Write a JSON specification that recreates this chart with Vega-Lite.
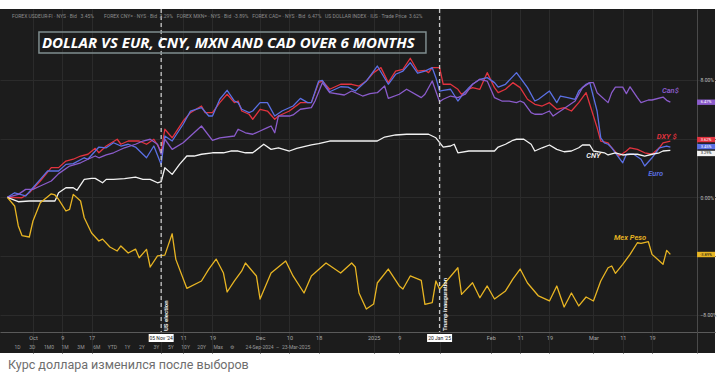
{
  "$schema": "https://vega.github.io/schema/vega-lite/v6.json",
  "width": 715,
  "height": 344,
  "padding": {"left": 0, "top": 8, "right": 6, "bottom": 0},
  "background": "#ffffff",
  "title": {"text": "Курс доллара изменился после выборов", "orient": "bottom", "anchor": "start", "frame": "group", "dx": 8, "offset": 6, "fontSize": 12.5, "font": "Roboto", "fontWeight": "normal", "color": "#6e6e6e"},
  "config": {"view": {"fill": "#1c1c1c", "stroke": null}, "font": "Roboto", "axis": {"labelOverlap": false, "labelBound": false, "labelFlush": false}},
  "datasets": {
    "fx": [
      {"series":"DXY","date":"2024-09-24","pct":0},{"series":"DXY","date":"2024-09-28","pct":-0.03},{"series":"DXY","date":"2024-09-30","pct":0.31},{"series":"DXY","date":"2024-10-03","pct":1.11},{"series":"DXY","date":"2024-10-06","pct":2.02},{"series":"DXY","date":"2024-10-08","pct":2.02},{"series":"DXY","date":"2024-10-10","pct":2.47},{"series":"DXY","date":"2024-10-12","pct":2.59},{"series":"DXY","date":"2024-10-14","pct":2.81},{"series":"DXY","date":"2024-10-16","pct":2.93},{"series":"DXY","date":"2024-10-18","pct":3.33},{"series":"DXY","date":"2024-10-19","pct":3.03},{"series":"DXY","date":"2024-10-21","pct":3.49},{"series":"DXY","date":"2024-10-24","pct":3.95},{"series":"DXY","date":"2024-10-25","pct":3.61},{"series":"DXY","date":"2024-10-27","pct":3.83},{"series":"DXY","date":"2024-10-30","pct":3.83},{"series":"DXY","date":"2024-11-01","pct":3.61},{"series":"DXY","date":"2024-11-03","pct":3.95},{"series":"DXY","date":"2024-11-05","pct":3.15},{"series":"DXY","date":"2024-11-06","pct":4.63},{"series":"DXY","date":"2024-11-08","pct":4.05},{"series":"DXY","date":"2024-11-11","pct":5.19},{"series":"DXY","date":"2024-11-13","pct":5.76},{"series":"DXY","date":"2024-11-16","pct":6.21},{"series":"DXY","date":"2024-11-17","pct":5.76},{"series":"DXY","date":"2024-11-19","pct":5.76},{"series":"DXY","date":"2024-11-21","pct":6.44},{"series":"DXY","date":"2024-11-23","pct":7.01},{"series":"DXY","date":"2024-11-25","pct":6.44},{"series":"DXY","date":"2024-11-26","pct":6.55},{"series":"DXY","date":"2024-11-27","pct":5.87},{"series":"DXY","date":"2024-11-29","pct":5.65},{"series":"DXY","date":"2024-11-30","pct":5.31},{"series":"DXY","date":"2024-12-02","pct":5.99},{"series":"DXY","date":"2024-12-04","pct":5.87},{"series":"DXY","date":"2024-12-06","pct":5.31},{"series":"DXY","date":"2024-12-07","pct":5.53},{"series":"DXY","date":"2024-12-10","pct":5.87},{"series":"DXY","date":"2024-12-13","pct":6.44},{"series":"DXY","date":"2024-12-16","pct":6.44},{"series":"DXY","date":"2024-12-18","pct":7.8},{"series":"DXY","date":"2024-12-19","pct":7.91},{"series":"DXY","date":"2024-12-21","pct":7.35},{"series":"DXY","date":"2024-12-24","pct":7.69},{"series":"DXY","date":"2024-12-27","pct":7.69},{"series":"DXY","date":"2024-12-29","pct":7.57},{"series":"DXY","date":"2024-12-31","pct":7.91},{"series":"DXY","date":"2025-01-02","pct":8.48},{"series":"DXY","date":"2025-01-04","pct":8.82},{"series":"DXY","date":"2025-01-06","pct":7.8},{"series":"DXY","date":"2025-01-08","pct":8.59},{"series":"DXY","date":"2025-01-10","pct":8.71},{"series":"DXY","date":"2025-01-12","pct":9.46},{"series":"DXY","date":"2025-01-14","pct":8.59},{"series":"DXY","date":"2025-01-16","pct":8.64},{"series":"DXY","date":"2025-01-17","pct":8.48},{"series":"DXY","date":"2025-01-18","pct":8.82},{"series":"DXY","date":"2025-01-20","pct":8.82},{"series":"DXY","date":"2025-01-21","pct":7.69},{"series":"DXY","date":"2025-01-23","pct":7.69},{"series":"DXY","date":"2025-01-25","pct":7.35},{"series":"DXY","date":"2025-01-26","pct":7.01},{"series":"DXY","date":"2025-01-28","pct":7.35},{"series":"DXY","date":"2025-01-29","pct":7.46},{"series":"DXY","date":"2025-01-31","pct":7.35},{"series":"DXY","date":"2025-02-02","pct":8.48},{"series":"DXY","date":"2025-02-04","pct":7.46},{"series":"DXY","date":"2025-02-05","pct":7.12},{"series":"DXY","date":"2025-02-07","pct":7.35},{"series":"DXY","date":"2025-02-09","pct":7.8},{"series":"DXY","date":"2025-02-11","pct":7.46},{"series":"DXY","date":"2025-02-13","pct":6.67},{"series":"DXY","date":"2025-02-15","pct":6.33},{"series":"DXY","date":"2025-02-17","pct":6.21},{"series":"DXY","date":"2025-02-19","pct":6.44},{"series":"DXY","date":"2025-02-21","pct":5.99},{"series":"DXY","date":"2025-02-23","pct":6.1},{"series":"DXY","date":"2025-02-25","pct":5.87},{"series":"DXY","date":"2025-02-27","pct":6.44},{"series":"DXY","date":"2025-03-01","pct":7.12},{"series":"DXY","date":"2025-03-02","pct":6.33},{"series":"DXY","date":"2025-03-04","pct":4.74},{"series":"DXY","date":"2025-03-05","pct":3.83},{"series":"DXY","date":"2025-03-07","pct":3.71},{"series":"DXY","date":"2025-03-08","pct":3.37},{"series":"DXY","date":"2025-03-10","pct":2.81},{"series":"DXY","date":"2025-03-12","pct":3.15},{"series":"DXY","date":"2025-03-13","pct":3.37},{"series":"DXY","date":"2025-03-15","pct":3.26},{"series":"DXY","date":"2025-03-17","pct":3.03},{"series":"DXY","date":"2025-03-19","pct":2.93},{"series":"DXY","date":"2025-03-21","pct":3.37},{"series":"DXY","date":"2025-03-22","pct":3.71},{"series":"DXY","date":"2025-03-24","pct":3.83},

      {"series":"Euro","date":"2024-09-24","pct":0},{"series":"Euro","date":"2024-09-26","pct":0.31},{"series":"Euro","date":"2024-09-29","pct":0.09},{"series":"Euro","date":"2024-10-01","pct":0.65},{"series":"Euro","date":"2024-10-03","pct":1.22},{"series":"Euro","date":"2024-10-05","pct":1.79},{"series":"Euro","date":"2024-10-08","pct":1.79},{"series":"Euro","date":"2024-10-10","pct":2.24},{"series":"Euro","date":"2024-10-12","pct":2.29},{"series":"Euro","date":"2024-10-15","pct":2.69},{"series":"Euro","date":"2024-10-16","pct":2.59},{"series":"Euro","date":"2024-10-19","pct":3.42},{"series":"Euro","date":"2024-10-21","pct":3.37},{"series":"Euro","date":"2024-10-23","pct":3.71},{"series":"Euro","date":"2024-10-25","pct":3.49},{"series":"Euro","date":"2024-10-27","pct":3.61},{"series":"Euro","date":"2024-10-29","pct":3.42},{"series":"Euro","date":"2024-11-01","pct":2.69},{"series":"Euro","date":"2024-11-03","pct":3.49},{"series":"Euro","date":"2024-11-05","pct":2.24},{"series":"Euro","date":"2024-11-06","pct":4.17},{"series":"Euro","date":"2024-11-08","pct":3.83},{"series":"Euro","date":"2024-11-11","pct":4.97},{"series":"Euro","date":"2024-11-13","pct":5.87},{"series":"Euro","date":"2024-11-16","pct":6.1},{"series":"Euro","date":"2024-11-18","pct":5.53},{"series":"Euro","date":"2024-11-19","pct":5.53},{"series":"Euro","date":"2024-11-21","pct":6.67},{"series":"Euro","date":"2024-11-23","pct":7.28},{"series":"Euro","date":"2024-11-25","pct":6.55},{"series":"Euro","date":"2024-11-26","pct":6.44},{"series":"Euro","date":"2024-11-27","pct":5.99},{"series":"Euro","date":"2024-11-29","pct":5.76},{"series":"Euro","date":"2024-11-30","pct":5.87},{"series":"Euro","date":"2024-12-02","pct":6.44},{"series":"Euro","date":"2024-12-04","pct":6.44},{"series":"Euro","date":"2024-12-06","pct":5.53},{"series":"Euro","date":"2024-12-08","pct":5.87},{"series":"Euro","date":"2024-12-11","pct":6.21},{"series":"Euro","date":"2024-12-13","pct":6.73},{"series":"Euro","date":"2024-12-15","pct":6.44},{"series":"Euro","date":"2024-12-16","pct":6.44},{"series":"Euro","date":"2024-12-18","pct":7.91},{"series":"Euro","date":"2024-12-19","pct":7.96},{"series":"Euro","date":"2024-12-21","pct":7.18},{"series":"Euro","date":"2024-12-24","pct":7.52},{"series":"Euro","date":"2024-12-26","pct":7.5},{"series":"Euro","date":"2024-12-28","pct":7.23},{"series":"Euro","date":"2024-12-31","pct":7.91},{"series":"Euro","date":"2025-01-03","pct":8.93},{"series":"Euro","date":"2025-01-06","pct":7.69},{"series":"Euro","date":"2025-01-08","pct":8.37},{"series":"Euro","date":"2025-01-10","pct":8.59},{"series":"Euro","date":"2025-01-12","pct":9.16},{"series":"Euro","date":"2025-01-14","pct":8.44},{"series":"Euro","date":"2025-01-16","pct":8.59},{"series":"Euro","date":"2025-01-18","pct":8.82},{"series":"Euro","date":"2025-01-19","pct":8.14},{"series":"Euro","date":"2025-01-20","pct":7.23},{"series":"Euro","date":"2025-01-21","pct":7.28},{"series":"Euro","date":"2025-01-23","pct":7.35},{"series":"Euro","date":"2025-01-25","pct":6.55},{"series":"Euro","date":"2025-01-26","pct":6.89},{"series":"Euro","date":"2025-01-28","pct":7.46},{"series":"Euro","date":"2025-01-29","pct":7.69},{"series":"Euro","date":"2025-01-31","pct":8.03},{"series":"Euro","date":"2025-02-02","pct":8.14},{"series":"Euro","date":"2025-02-04","pct":7.8},{"series":"Euro","date":"2025-02-05","pct":7.5},{"series":"Euro","date":"2025-02-07","pct":7.69},{"series":"Euro","date":"2025-02-10","pct":8.48},{"series":"Euro","date":"2025-02-11","pct":8.14},{"series":"Euro","date":"2025-02-13","pct":7.46},{"series":"Euro","date":"2025-02-15","pct":6.55},{"series":"Euro","date":"2025-02-16","pct":6.67},{"series":"Euro","date":"2025-02-19","pct":7.23},{"series":"Euro","date":"2025-02-21","pct":6.44},{"series":"Euro","date":"2025-02-22","pct":6.89},{"series":"Euro","date":"2025-02-24","pct":6.78},{"series":"Euro","date":"2025-02-26","pct":6.67},{"series":"Euro","date":"2025-02-27","pct":7.23},{"series":"Euro","date":"2025-03-01","pct":7.69},{"series":"Euro","date":"2025-03-02","pct":7.8},{"series":"Euro","date":"2025-03-04","pct":5.87},{"series":"Euro","date":"2025-03-05","pct":4.05},{"series":"Euro","date":"2025-03-06","pct":3.71},{"series":"Euro","date":"2025-03-07","pct":3.61},{"series":"Euro","date":"2025-03-08","pct":3.37},{"series":"Euro","date":"2025-03-11","pct":2.35},{"series":"Euro","date":"2025-03-12","pct":2.93},{"series":"Euro","date":"2025-03-14","pct":2.93},{"series":"Euro","date":"2025-03-16","pct":2.59},{"series":"Euro","date":"2025-03-17","pct":2.13},{"series":"Euro","date":"2025-03-19","pct":2.69},{"series":"Euro","date":"2025-03-21","pct":3.37},{"series":"Euro","date":"2025-03-23","pct":3.49},{"series":"Euro","date":"2025-03-24","pct":3.42},

      {"series":"CAD","date":"2024-09-24","pct":0},{"series":"CAD","date":"2024-09-27","pct":0.2},{"series":"CAD","date":"2024-09-29","pct":0.54},{"series":"CAD","date":"2024-10-01","pct":0.54},{"series":"CAD","date":"2024-10-03","pct":0.77},{"series":"CAD","date":"2024-10-06","pct":1.11},{"series":"CAD","date":"2024-10-08","pct":1.61},{"series":"CAD","date":"2024-10-11","pct":2.13},{"series":"CAD","date":"2024-10-14","pct":2.35},{"series":"CAD","date":"2024-10-16","pct":2.59},{"series":"CAD","date":"2024-10-18","pct":2.81},{"series":"CAD","date":"2024-10-19","pct":2.69},{"series":"CAD","date":"2024-10-21","pct":2.88},{"series":"CAD","date":"2024-10-23","pct":3.03},{"series":"CAD","date":"2024-10-26","pct":3.37},{"series":"CAD","date":"2024-10-29","pct":3.61},{"series":"CAD","date":"2024-10-31","pct":3.83},{"series":"CAD","date":"2024-11-02","pct":3.95},{"series":"CAD","date":"2024-11-04","pct":3.61},{"series":"CAD","date":"2024-11-05","pct":2.93},{"series":"CAD","date":"2024-11-06","pct":3.95},{"series":"CAD","date":"2024-11-08","pct":3.26},{"series":"CAD","date":"2024-11-11","pct":3.71},{"series":"CAD","date":"2024-11-13","pct":4.17},{"series":"CAD","date":"2024-11-16","pct":4.85},{"series":"CAD","date":"2024-11-19","pct":3.88},{"series":"CAD","date":"2024-11-21","pct":4.05},{"series":"CAD","date":"2024-11-25","pct":4.17},{"series":"CAD","date":"2024-11-26","pct":4.63},{"series":"CAD","date":"2024-11-28","pct":4.39},{"series":"CAD","date":"2024-11-30","pct":4.29},{"series":"CAD","date":"2024-12-02","pct":4.51},{"series":"CAD","date":"2024-12-04","pct":4.74},{"series":"CAD","date":"2024-12-05","pct":4.85},{"series":"CAD","date":"2024-12-06","pct":4.39},{"series":"CAD","date":"2024-12-07","pct":5.53},{"series":"CAD","date":"2024-12-10","pct":5.53},{"series":"CAD","date":"2024-12-11","pct":5.6},{"series":"CAD","date":"2024-12-13","pct":5.99},{"series":"CAD","date":"2024-12-16","pct":6.1},{"series":"CAD","date":"2024-12-17","pct":6.55},{"series":"CAD","date":"2024-12-19","pct":7.8},{"series":"CAD","date":"2024-12-21","pct":7.12},{"series":"CAD","date":"2024-12-25","pct":6.96},{"series":"CAD","date":"2024-12-27","pct":7.23},{"series":"CAD","date":"2024-12-30","pct":6.89},{"series":"CAD","date":"2025-01-01","pct":7.05},{"series":"CAD","date":"2025-01-03","pct":7.12},{"series":"CAD","date":"2025-01-05","pct":7.57},{"series":"CAD","date":"2025-01-06","pct":6.73},{"series":"CAD","date":"2025-01-09","pct":7.01},{"series":"CAD","date":"2025-01-11","pct":7.35},{"series":"CAD","date":"2025-01-15","pct":6.78},{"series":"CAD","date":"2025-01-16","pct":7.01},{"series":"CAD","date":"2025-01-18","pct":7.91},{"series":"CAD","date":"2025-01-20","pct":6.5},{"series":"CAD","date":"2025-01-21","pct":6.67},{"series":"CAD","date":"2025-01-23","pct":6.89},{"series":"CAD","date":"2025-01-25","pct":6.78},{"series":"CAD","date":"2025-01-27","pct":7.01},{"series":"CAD","date":"2025-01-29","pct":7.69},{"series":"CAD","date":"2025-01-31","pct":8.03},{"series":"CAD","date":"2025-02-02","pct":7.91},{"series":"CAD","date":"2025-02-04","pct":6.78},{"series":"CAD","date":"2025-02-06","pct":6.55},{"series":"CAD","date":"2025-02-08","pct":6.55},{"series":"CAD","date":"2025-02-10","pct":6.44},{"series":"CAD","date":"2025-02-11","pct":6.55},{"series":"CAD","date":"2025-02-12","pct":6.44},{"series":"CAD","date":"2025-02-14","pct":5.76},{"series":"CAD","date":"2025-02-15","pct":5.65},{"series":"CAD","date":"2025-02-17","pct":5.65},{"series":"CAD","date":"2025-02-19","pct":5.87},{"series":"CAD","date":"2025-02-20","pct":5.53},{"series":"CAD","date":"2025-02-22","pct":5.87},{"series":"CAD","date":"2025-02-24","pct":6.21},{"series":"CAD","date":"2025-02-26","pct":6.55},{"series":"CAD","date":"2025-02-28","pct":7.46},{"series":"CAD","date":"2025-03-02","pct":7.8},{"series":"CAD","date":"2025-03-03","pct":7.8},{"series":"CAD","date":"2025-03-04","pct":7.12},{"series":"CAD","date":"2025-03-07","pct":6.44},{"series":"CAD","date":"2025-03-08","pct":7.12},{"series":"CAD","date":"2025-03-09","pct":7.5},{"series":"CAD","date":"2025-03-11","pct":7.5},{"series":"CAD","date":"2025-03-12","pct":7.05},{"series":"CAD","date":"2025-03-13","pct":7.52},{"series":"CAD","date":"2025-03-15","pct":6.78},{"series":"CAD","date":"2025-03-16","pct":6.44},{"series":"CAD","date":"2025-03-18","pct":6.62},{"series":"CAD","date":"2025-03-19","pct":6.62},{"series":"CAD","date":"2025-03-22","pct":6.82},{"series":"CAD","date":"2025-03-23","pct":6.6},{"series":"CAD","date":"2025-03-24","pct":6.48},

      {"series":"CNY","date":"2024-09-24","pct":0},{"series":"CNY","date":"2024-09-27","pct":-0.3},{"series":"CNY","date":"2024-09-30","pct":-0.25},{"series":"CNY","date":"2024-10-03","pct":-0.25},{"series":"CNY","date":"2024-10-07","pct":-0.25},{"series":"CNY","date":"2024-10-08","pct":0.31},{"series":"CNY","date":"2024-10-10","pct":0.65},{"series":"CNY","date":"2024-10-12","pct":0.65},{"series":"CNY","date":"2024-10-13","pct":0.48},{"series":"CNY","date":"2024-10-15","pct":1.22},{"series":"CNY","date":"2024-10-17","pct":1.29},{"series":"CNY","date":"2024-10-18","pct":1.29},{"series":"CNY","date":"2024-10-20","pct":0.99},{"series":"CNY","date":"2024-10-21","pct":1.22},{"series":"CNY","date":"2024-10-23","pct":1.22},{"series":"CNY","date":"2024-10-26","pct":1.27},{"series":"CNY","date":"2024-10-29","pct":1.38},{"series":"CNY","date":"2024-10-31","pct":1.22},{"series":"CNY","date":"2024-11-02","pct":1.22},{"series":"CNY","date":"2024-11-04","pct":0.99},{"series":"CNY","date":"2024-11-05","pct":1.06},{"series":"CNY","date":"2024-11-06","pct":2.01},{"series":"CNY","date":"2024-11-08","pct":1.56},{"series":"CNY","date":"2024-11-10","pct":2.24},{"series":"CNY","date":"2024-11-12","pct":2.81},{"series":"CNY","date":"2024-11-14","pct":2.81},{"series":"CNY","date":"2024-11-16","pct":2.93},{"series":"CNY","date":"2024-11-19","pct":3.03},{"series":"CNY","date":"2024-11-22","pct":3.03},{"series":"CNY","date":"2024-11-24","pct":3.15},{"series":"CNY","date":"2024-11-26","pct":3.15},{"series":"CNY","date":"2024-11-28","pct":3.03},{"series":"CNY","date":"2024-11-30","pct":3.03},{"series":"CNY","date":"2024-12-03","pct":3.61},{"series":"CNY","date":"2024-12-05","pct":3.26},{"series":"CNY","date":"2024-12-07","pct":3.37},{"series":"CNY","date":"2024-12-10","pct":3.15},{"series":"CNY","date":"2024-12-12","pct":3.33},{"series":"CNY","date":"2024-12-16","pct":3.56},{"series":"CNY","date":"2024-12-18","pct":3.65},{"series":"CNY","date":"2024-12-21","pct":3.83},{"series":"CNY","date":"2024-12-27","pct":3.83},{"series":"CNY","date":"2025-01-03","pct":3.83},{"series":"CNY","date":"2025-01-05","pct":4.1},{"series":"CNY","date":"2025-01-08","pct":4.24},{"series":"CNY","date":"2025-01-11","pct":4.29},{"series":"CNY","date":"2025-01-17","pct":4.29},{"series":"CNY","date":"2025-01-19","pct":4.05},{"series":"CNY","date":"2025-01-21","pct":3.42},{"series":"CNY","date":"2025-01-23","pct":3.49},{"series":"CNY","date":"2025-01-24","pct":3.61},{"series":"CNY","date":"2025-01-25","pct":3.03},{"series":"CNY","date":"2025-01-28","pct":3.15},{"series":"CNY","date":"2025-02-04","pct":3.15},{"series":"CNY","date":"2025-02-05","pct":3.42},{"series":"CNY","date":"2025-02-07","pct":3.61},{"series":"CNY","date":"2025-02-09","pct":3.88},{"series":"CNY","date":"2025-02-10","pct":3.95},{"series":"CNY","date":"2025-02-12","pct":3.95},{"series":"CNY","date":"2025-02-14","pct":3.61},{"series":"CNY","date":"2025-02-15","pct":3.15},{"series":"CNY","date":"2025-02-17","pct":3.37},{"series":"CNY","date":"2025-02-19","pct":3.56},{"series":"CNY","date":"2025-02-21","pct":3.26},{"series":"CNY","date":"2025-02-23","pct":3.1},{"series":"CNY","date":"2025-02-25","pct":3.15},{"series":"CNY","date":"2025-02-27","pct":3.37},{"series":"CNY","date":"2025-02-28","pct":3.56},{"series":"CNY","date":"2025-03-02","pct":3.56},{"series":"CNY","date":"2025-03-03","pct":3.15},{"series":"CNY","date":"2025-03-06","pct":3.03},{"series":"CNY","date":"2025-03-07","pct":2.88},{"series":"CNY","date":"2025-03-09","pct":3.03},{"series":"CNY","date":"2025-03-11","pct":2.88},{"series":"CNY","date":"2025-03-13","pct":2.93},{"series":"CNY","date":"2025-03-15","pct":2.93},{"series":"CNY","date":"2025-03-17","pct":2.81},{"series":"CNY","date":"2025-03-19","pct":2.93},{"series":"CNY","date":"2025-03-21","pct":3.03},{"series":"CNY","date":"2025-03-22","pct":3.15},{"series":"CNY","date":"2025-03-24","pct":3.2},

      {"series":"MXN","date":"2024-09-24","pct":0},{"series":"MXN","date":"2024-09-26","pct":-0.59},{"series":"MXN","date":"2024-09-27","pct":-1.95},{"series":"MXN","date":"2024-09-28","pct":-2.6},{"series":"MXN","date":"2024-09-30","pct":-2.7},{"series":"MXN","date":"2024-10-01","pct":-1.61},{"series":"MXN","date":"2024-10-03","pct":-0.37},{"series":"MXN","date":"2024-10-06","pct":0.24},{"series":"MXN","date":"2024-10-07","pct":0.16},{"series":"MXN","date":"2024-10-08","pct":-0.14},{"series":"MXN","date":"2024-10-10","pct":-0.93},{"series":"MXN","date":"2024-10-11","pct":-0.82},{"series":"MXN","date":"2024-10-12","pct":0.2},{"series":"MXN","date":"2024-10-14","pct":-0.25},{"series":"MXN","date":"2024-10-15","pct":-1.39},{"series":"MXN","date":"2024-10-17","pct":-2.43},{"series":"MXN","date":"2024-10-19","pct":-2.97},{"series":"MXN","date":"2024-10-20","pct":-2.84},{"series":"MXN","date":"2024-10-22","pct":-3.38},{"series":"MXN","date":"2024-10-24","pct":-3.65},{"series":"MXN","date":"2024-10-25","pct":-3.31},{"series":"MXN","date":"2024-10-27","pct":-3.79},{"series":"MXN","date":"2024-10-29","pct":-3.52},{"series":"MXN","date":"2024-10-30","pct":-4.11},{"series":"MXN","date":"2024-11-01","pct":-3.54},{"series":"MXN","date":"2024-11-02","pct":-4.74},{"series":"MXN","date":"2024-11-04","pct":-3.99},{"series":"MXN","date":"2024-11-06","pct":-3.93},{"series":"MXN","date":"2024-11-08","pct":-2.48},{"series":"MXN","date":"2024-11-09","pct":-4.22},{"series":"MXN","date":"2024-11-12","pct":-6.19},{"series":"MXN","date":"2024-11-16","pct":-5.69},{"series":"MXN","date":"2024-11-18","pct":-4.88},{"series":"MXN","date":"2024-11-20","pct":-4.2},{"series":"MXN","date":"2024-11-22","pct":-5.15},{"series":"MXN","date":"2024-11-23","pct":-6.44},{"series":"MXN","date":"2024-11-25","pct":-5.69},{"series":"MXN","date":"2024-11-27","pct":-5.01},{"series":"MXN","date":"2024-11-28","pct":-4.47},{"series":"MXN","date":"2024-12-01","pct":-5.35},{"series":"MXN","date":"2024-12-02","pct":-6.92},{"series":"MXN","date":"2024-12-05","pct":-5.15},{"series":"MXN","date":"2024-12-09","pct":-4.33},{"series":"MXN","date":"2024-12-11","pct":-5.35},{"series":"MXN","date":"2024-12-14","pct":-6.51},{"series":"MXN","date":"2024-12-16","pct":-5.35},{"series":"MXN","date":"2024-12-20","pct":-4.47},{"series":"MXN","date":"2024-12-24","pct":-5.15},{"series":"MXN","date":"2024-12-27","pct":-4.47},{"series":"MXN","date":"2024-12-28","pct":-4.74},{"series":"MXN","date":"2024-12-29","pct":-6.51},{"series":"MXN","date":"2024-12-31","pct":-7.6},{"series":"MXN","date":"2025-01-02","pct":-7.26},{"series":"MXN","date":"2025-01-03","pct":-5.83},{"series":"MXN","date":"2025-01-06","pct":-4.88},{"series":"MXN","date":"2025-01-09","pct":-6.03},{"series":"MXN","date":"2025-01-10","pct":-6.24},{"series":"MXN","date":"2025-01-12","pct":-5.35},{"series":"MXN","date":"2025-01-15","pct":-5.65},{"series":"MXN","date":"2025-01-16","pct":-7.28},{"series":"MXN","date":"2025-01-18","pct":-7.17},{"series":"MXN","date":"2025-01-19","pct":-5.69},{"series":"MXN","date":"2025-01-20","pct":-6.26},{"series":"MXN","date":"2025-01-25","pct":-4.79},{"series":"MXN","date":"2025-01-26","pct":-6.6},{"series":"MXN","date":"2025-01-29","pct":-5.81},{"series":"MXN","date":"2025-01-31","pct":-6.83},{"series":"MXN","date":"2025-02-02","pct":-6.03},{"series":"MXN","date":"2025-02-04","pct":-6.92},{"series":"MXN","date":"2025-02-07","pct":-6.37},{"series":"MXN","date":"2025-02-09","pct":-5.56},{"series":"MXN","date":"2025-02-11","pct":-4.88},{"series":"MXN","date":"2025-02-13","pct":-5.83},{"series":"MXN","date":"2025-02-16","pct":-6.71},{"series":"MXN","date":"2025-02-19","pct":-7.05},{"series":"MXN","date":"2025-02-21","pct":-6.03},{"series":"MXN","date":"2025-02-23","pct":-7.46},{"series":"MXN","date":"2025-02-25","pct":-6.51},{"series":"MXN","date":"2025-02-27","pct":-7.39},{"series":"MXN","date":"2025-03-01","pct":-6.78},{"series":"MXN","date":"2025-03-03","pct":-7.05},{"series":"MXN","date":"2025-03-05","pct":-5.69},{"series":"MXN","date":"2025-03-07","pct":-4.79},{"series":"MXN","date":"2025-03-08","pct":-4.67},{"series":"MXN","date":"2025-03-09","pct":-5.17},{"series":"MXN","date":"2025-03-11","pct":-4.56},{"series":"MXN","date":"2025-03-13","pct":-3.88},{"series":"MXN","date":"2025-03-15","pct":-3.09},{"series":"MXN","date":"2025-03-16","pct":-3.13},{"series":"MXN","date":"2025-03-18","pct":-3.02},{"series":"MXN","date":"2025-03-19","pct":-3.88},{"series":"MXN","date":"2025-03-22","pct":-4.56},{"series":"MXN","date":"2025-03-23","pct":-3.61},{"series":"MXN","date":"2025-03-24","pct":-3.88}
    ],
    "events": [
      {"date": "2024-11-05", "label": "US election", "tag": "05 Nov '24"},
      {"date": "2025-01-20", "label": "Trump inauguration", "tag": "20 Jan '25"}
    ],
    "names": [
      {"series": "CAD", "label": "Can$", "date": "2025-03-24", "pct": 7.23},
      {"series": "DXY", "label": "DXY $", "date": "2025-03-23", "pct": 4.1},
      {"series": "CNY", "label": "CNY", "date": "2025-03-03", "pct": 2.81},
      {"series": "Euro", "label": "Euro", "date": "2025-03-20", "pct": 1.56},
      {"series": "MXN", "label": "Mex Peso", "date": "2025-03-13", "pct": -2.79}
    ],
    "tags": [
      {"series": "DXY", "text": "3.62%", "last": 3.62},
      {"series": "Euro", "text": "3.45%", "last": 3.45},
      {"series": "CNY", "text": "3.29%", "last": 3.29},
      {"series": "CAD", "text": "6.47%", "last": 6.47},
      {"series": "MXN", "text": "-3.89%", "last": -3.89}
    ]
  },
  "layer": [
    {
      "data": {"name": "fx"},
      "mark": {"type": "line", "strokeWidth": 1.3, "strokeJoin": "round"},
      "encoding": {
        "x": {
          "field": "date", "type": "temporal",
          "scale": {"type": "utc", "domain": [{"year": 2024, "month": 9, "date": 22, "utc": true}, {"year": 2025, "month": 4, "date": 5, "hours": 4, "minutes": 34, "utc": true}]},
          "axis": {
            "orient": "bottom", "offset": -21,
            "values": [
              {"year": 2024, "month": 10, "date": 1, "utc": true}, {"year": 2024, "month": 10, "date": 9, "utc": true}, {"year": 2024, "month": 10, "date": 17, "utc": true},
              {"year": 2024, "month": 11, "date": 5, "utc": true}, {"year": 2024, "month": 11, "date": 11, "utc": true}, {"year": 2024, "month": 11, "date": 19, "utc": true},
              {"year": 2024, "month": 12, "date": 2, "utc": true}, {"year": 2024, "month": 12, "date": 10, "utc": true}, {"year": 2024, "month": 12, "date": 18, "utc": true},
              {"year": 2025, "month": 1, "date": 2, "utc": true}, {"year": 2025, "month": 1, "date": 9, "utc": true}, {"year": 2025, "month": 1, "date": 20, "utc": true},
              {"year": 2025, "month": 2, "date": 3, "utc": true}, {"year": 2025, "month": 2, "date": 11, "utc": true}, {"year": 2025, "month": 2, "date": 19, "utc": true},
              {"year": 2025, "month": 3, "date": 3, "utc": true}, {"year": 2025, "month": 3, "date": 11, "utc": true}, {"year": 2025, "month": 3, "date": 19, "utc": true}
            ],
            "labelExpr": "(utcmonth(datum.value)==10 && utcdate(datum.value)==5) || (utcmonth(datum.value)==0 && utcdate(datum.value)==20) ? '' : (utcmonth(datum.value)==0 && utcdate(datum.value)==2 ? '2025' : (utcdate(datum.value)<=3 ? utcFormat(datum.value,'%b') : '' + utcdate(datum.value)))",
            "ticks": false, "domainColor": "#5a5a5a", "domainWidth": 1,
            "grid": true, "gridColor": "#2b2b2b", "gridWidth": 1,
            "labelColor": "#a8a8a8", "labelFontSize": 5.5, "labelPadding": 3, "labelFlush": false, "labelOverlap": false,
            "title": "1D\u00a0\u00a0\u00a0\u00a0\u00a0\u00a0\u00a03D\u00a0\u00a0\u00a0\u00a0\u00a0\u00a0\u00a01M0\u00a0\u00a0\u00a0\u00a0\u00a0\u00a01M\u00a0\u00a0\u00a0\u00a0\u00a0\u00a0\u00a03M\u00a0\u00a0\u00a0\u00a0\u00a0\u00a0\u00a06M\u00a0\u00a0\u00a0\u00a0\u00a0\u00a0YTD\u00a0\u00a0\u00a0\u00a0\u00a0\u00a01Y\u00a0\u00a0\u00a0\u00a0\u00a0\u00a0\u00a02Y\u00a0\u00a0\u00a0\u00a0\u00a0\u00a0\u00a03Y\u00a0\u00a0\u00a0\u00a0\u00a0\u00a0\u00a05Y\u00a0\u00a0\u00a0\u00a0\u00a0\u00a010Y\u00a0\u00a0\u00a0\u00a0\u00a0\u00a020Y\u00a0\u00a0\u00a0\u00a0\u00a0\u00a0Max\u00a0\u00a0\u00a0\u00a0\u00a0\u00a0\u2699\u00a0\u00a0\u00a0\u00a0\u00a0\u00a0\u00a0\u00a0\u00a024-Sep-2024\u00a0\u00a0\u2013\u00a0\u00a023-Mar-2025",
            "titleFontSize": 5, "titleColor": "#9a9a9a", "titleFontWeight": "normal", "titleAnchor": "start", "titleAlign": "left", "titleX": 14, "titlePadding": 4
          }
        },
        "y": {
          "field": "pct", "type": "quantitative",
          "scale": {"domain": [-10.59, 12.81], "nice": false, "zero": false},
          "axis": {
            "orient": "right", "offset": -18,
            "values": [-8, -7, -6, -5, -4, -3, -2, -1, 0, 1, 2, 3, 4, 5, 6, 7, 8, 9, 10, 11],
            "labelExpr": "datum.value == 3 || datum.value == 4 || datum.value == -4 ? '' : format(datum.value, '.2f') + '%'",
            "ticks": false, "domainColor": "#4a4a4a", "grid": true, "gridColor": "#2b2b2b",
            "labelColor": "#bdbdbd", "labelFontSize": 5, "labelPadding": 3, "labelFlush": false, "labelOverlap": false, "labelBound": false, "title": null
          }
        },
        "color": {
          "field": "series", "type": "nominal", "legend": null,
          "scale": {"domain": ["CNY", "MXN", "CAD", "Euro", "DXY"], "range": ["#f2f2f2", "#e8b523", "#8b5ccc", "#5b70e4", "#e2333f"]}
        }
      }
    },
    {
      "data": {"name": "events"},
      "mark": {"type": "rule", "color": "#c8c8c8", "strokeDash": [4, 3], "strokeWidth": 1.3},
      "encoding": {
        "x": {"field": "date", "type": "temporal"},
        "y": {"datum": 12.81},
        "y2": {"datum": -9.16}
      }
    },
    {
      "data": {"name": "events"},
      "mark": {"type": "text", "angle": 270, "align": "left", "baseline": "top", "dy": 2, "fontSize": 6, "fontWeight": "bold", "color": "#ececec"},
      "encoding": {
        "x": {"field": "date", "type": "temporal"},
        "y": {"datum": -9.1},
        "text": {"field": "label"}
      }
    },
    {
      "data": {"name": "events"},
      "mark": {"type": "point", "shape": "M-1,-0.32H1V0.32H-1Z", "size": 625, "filled": true, "opacity": 1, "color": "#ffffff", "strokeWidth": 0},
      "encoding": {
        "x": {"field": "date", "type": "temporal"},
        "y": {"datum": -9.57}
      }
    },
    {
      "data": {"name": "events"},
      "mark": {"type": "text", "align": "center", "baseline": "middle", "fontSize": 5, "color": "#222222"},
      "encoding": {
        "x": {"field": "date", "type": "temporal"},
        "y": {"datum": -9.57},
        "text": {"field": "tag"}
      }
    },
    {
      "data": {"name": "names"},
      "mark": {"type": "text", "align": "center", "baseline": "middle", "fontSize": 7.5, "fontStyle": "italic", "fontWeight": 600},
      "encoding": {
        "x": {"field": "date", "type": "temporal"},
        "y": {"field": "pct", "type": "quantitative"},
        "text": {"field": "label"},
        "color": {"field": "series", "type": "nominal", "legend": null}
      }
    },
    {
      "data": {"name": "tags"},
      "transform": [{"filter": "datum.series == 'CAD' || datum.series == 'MXN' || datum.series == 'Euro'"}],
      "layer": [
        {
          "mark": {"type": "point", "shape": "M-1,-0.3H1V0.3H-1Z", "size": 324, "filled": true, "opacity": 1, "strokeWidth": 0},
          "encoding": {
            "x": {"datum": {"year": 2025, "month": 4, "date": 2, "hours": 18, "utc": true}},
            "y": {"field": "last", "type": "quantitative"},
            "color": {"field": "series", "type": "nominal", "legend": null}
          }
        },
        {
          "mark": {"type": "text", "align": "center", "baseline": "middle", "fontSize": 4},
          "encoding": {
            "x": {"datum": {"year": 2025, "month": 4, "date": 2, "hours": 18, "utc": true}},
            "y": {"field": "last", "type": "quantitative"},
            "text": {"field": "text"},
            "color": {"condition": {"test": "datum.series == 'MXN'", "value": "#111111"}, "value": "#ffffff"}
          }
        }
      ]
    },
    {
      "data": {"name": "tags"},
      "transform": [{"filter": "datum.series == 'DXY'"}],
      "layer": [
        {
          "mark": {"type": "point", "shape": "M-1,-0.3H1V0.3H-1Z", "size": 324, "filled": true, "opacity": 1, "strokeWidth": 0, "yOffset": -4.5},
          "encoding": {
            "x": {"datum": {"year": 2025, "month": 4, "date": 2, "hours": 18, "utc": true}},
            "y": {"field": "last", "type": "quantitative"},
            "color": {"field": "series", "type": "nominal", "legend": null}
          }
        },
        {
          "mark": {"type": "text", "align": "center", "baseline": "middle", "fontSize": 4, "color": "#ffffff", "yOffset": -4.5},
          "encoding": {
            "x": {"datum": {"year": 2025, "month": 4, "date": 2, "hours": 18, "utc": true}},
            "y": {"field": "last", "type": "quantitative"},
            "text": {"field": "text"}
          }
        }
      ]
    },
    {
      "data": {"name": "tags"},
      "transform": [{"filter": "datum.series == 'CNY'"}],
      "layer": [
        {
          "mark": {"type": "point", "shape": "M-1,-0.3H1V0.3H-1Z", "size": 324, "filled": true, "opacity": 1, "strokeWidth": 0, "yOffset": 4.5},
          "encoding": {
            "x": {"datum": {"year": 2025, "month": 4, "date": 2, "hours": 18, "utc": true}},
            "y": {"field": "last", "type": "quantitative"},
            "color": {"field": "series", "type": "nominal", "legend": null}
          }
        },
        {
          "mark": {"type": "text", "align": "center", "baseline": "middle", "fontSize": 4, "color": "#111111", "yOffset": 4.5},
          "encoding": {
            "x": {"datum": {"year": 2025, "month": 4, "date": 2, "hours": 18, "utc": true}},
            "y": {"field": "last", "type": "quantitative"},
            "text": {"field": "text"}
          }
        }
      ]
    },
    {
      "data": {"values": [{"text": "FOREX USDEUR-FI \u00b7 NYS \u00b7 Bid\u00a0\u00a0\u00a03.45%\u00a0\u00a0\u00a0\u00a0\u00a0\u00a0\u00a0\u00a0FOREX CNY= \u00b7 NYS \u00b7 Bid\u00a0\u00a03.29%\u00a0\u00a0\u00a0FOREX MXN= \u00b7 NYS \u00b7 Bid\u00a0\u00a0-3.89%\u00a0\u00a0\u00a0FOREX CAD= \u00b7 NYS \u00b7 Bid\u00a0\u00a06.47%\u00a0\u00a0\u00a0US DOLLAR INDEX \u00b7 IUS \u00b7 Trade Price\u00a0\u00a03.62%"}]},
      "mark": {"type": "text", "align": "left", "baseline": "middle", "fontSize": 5, "color": "#8c8c8c"},
      "encoding": {
        "x": {"datum": {"year": 2024, "month": 9, "date": 25, "hours": 7, "utc": true}},
        "y": {"datum": 12.33},
        "text": {"field": "text"}
      }
    },
    {
      "data": {"values": [{"text": "DOLLAR VS EUR, CNY, MXN AND CAD OVER 6 MONTHS"}]},
      "mark": {"type": "point", "shape": "M-1,-0.0543H1V0.0543H-1Z", "size": 149769, "filled": false, "opacity": 1, "color": "#7f8d8e", "strokeWidth": 1.5},
      "encoding": {
        "x": {"datum": {"year": 2024, "month": 11, "date": 24, "hours": 11, "utc": true}},
        "y": {"datum": 10.53}
      }
    },
    {
      "data": {"values": [{"text": "DOLLAR VS EUR, CNY, MXN AND CAD OVER 6 MONTHS"}]},
      "mark": {"type": "text", "align": "left", "baseline": "middle", "font": "Open Sans", "fontSize": 15, "fontWeight": "bold", "fontStyle": "italic", "color": "#ffffff"},
      "encoding": {
        "x": {"datum": {"year": 2024, "month": 10, "date": 3, "hours": 11, "utc": true}},
        "y": {"datum": 10.53},
        "text": {"field": "text"}
      }
    }
  ]
}
